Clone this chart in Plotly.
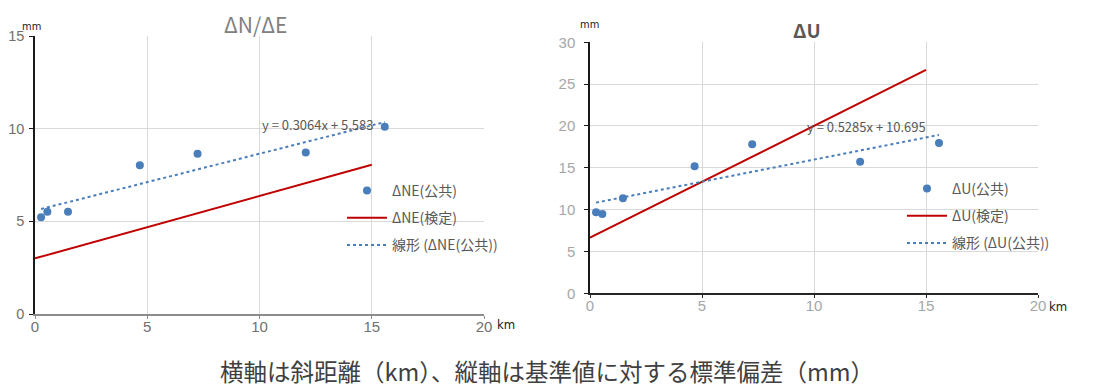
import plotly.graph_objects as go

# ---- data ----
dist_km = [0.27, 0.55, 1.47, 4.67, 7.24, 12.06, 15.58]
ne_public = [5.22, 5.52, 5.52, 8.02, 8.65, 8.72, 10.11]
u_public = [9.68, 9.48, 11.35, 15.18, 17.81, 15.73, 17.96]

ne_kentei_x = [0, 15]
ne_kentei_y = [3.0, 8.05]
u_kentei_x = [0, 15]
u_kentei_y = [6.65, 26.7]

ne_trend = (0.3064, 5.583)   # slope, intercept
u_trend = (0.5285, 10.695)

x_ticks = [0, 5, 10, 15, 20]
ne_y_ticks = [0, 5, 10, 15]
u_y_ticks = [0, 5, 10, 15, 20, 25, 30]

BLUE = "#4a7ebb"
RED = "#c00000"
FONT = "Noto Sans CJK JP"
TICKFONT = "Liberation Sans"
NARROW = "DejaVu Sans Condensed"

# page has an 8px body margin; figure fills the rest of the 1119x389 window
OFF = 8
W, H = 1119 - OFF, 389 - OFF

def trend_xy(coef, xs):
    xr = [min(xs), max(xs)]
    return xr, [coef[0] * v + coef[1] for v in xr]

fig = go.Figure()

# ---- left chart ----
fig.add_trace(go.Scatter(x=dist_km, y=ne_public, mode="markers", name="ΔNE(公共)",
                         marker=dict(color=BLUE, size=8), xaxis="x", yaxis="y",
                         legend="legend", legendgroup="a1"))
fig.add_trace(go.Scatter(x=ne_kentei_x, y=ne_kentei_y, mode="lines", name="ΔNE(検定)",
                         line=dict(color=RED, width=2), xaxis="x", yaxis="y",
                         legend="legend", legendgroup="a2"))
tx, ty = trend_xy(ne_trend, dist_km)
fig.add_trace(go.Scatter(x=tx, y=ty, mode="lines", name="線形 (ΔNE(公共))",
                         line=dict(color=BLUE, width=2, dash="dot"), xaxis="x", yaxis="y",
                         legend="legend", legendgroup="a3"))

# ---- right chart ----
fig.add_trace(go.Scatter(x=dist_km, y=u_public, mode="markers", name="ΔU(公共)",
                         marker=dict(color=BLUE, size=8), xaxis="x2", yaxis="y2",
                         legend="legend2", legendgroup="b1"))
fig.add_trace(go.Scatter(x=u_kentei_x, y=u_kentei_y, mode="lines", name="ΔU(検定)",
                         line=dict(color=RED, width=2), xaxis="x2", yaxis="y2",
                         legend="legend2", legendgroup="b2"))
tx, ty = trend_xy(u_trend, dist_km)
fig.add_trace(go.Scatter(x=tx, y=ty, mode="lines", name="線形 (ΔU(公共))",
                         line=dict(color=BLUE, width=2, dash="dot"), xaxis="x2", yaxis="y2",
                         legend="legend2", legendgroup="b3"))

def px_x(p):
    return (p - OFF) / W

def px_y(p):
    return 1 - (p - OFF) / H

base = dict(showgrid=True, gridcolor="#d9d9d9", gridwidth=1, zeroline=False,
            showline=True, automargin=False)

def xax(dom, col, lblcol, anchor):
    return dict(domain=dom, range=[0, 20], tickvals=x_ticks, linecolor=col, linewidth=1.5,
                ticks="outside", ticklen=3, tickcolor=col, ticklabelstandoff=-5,
                tickfont=dict(family=TICKFONT, size=15, color=lblcol), anchor=anchor, **base)

def yax(dom, rng, tv, lblcol, anchor, standoff, size):
    return dict(domain=dom, range=rng, tickvals=tv, linecolor="#1a1a1a", linewidth=1.5,
                ticks="outside", ticklen=4, tickcolor="#1a1a1a", ticklabelstandoff=standoff,
                tickfont=dict(family=TICKFONT, size=size, color=lblcol), anchor=anchor, **base)

legfont = dict(family=FONT, size=14, color="#595959")

fig.update_layout(
    width=W, height=H,
    margin=dict(l=0, r=0, t=0, b=0),
    paper_bgcolor="white", plot_bgcolor="white",
    font=dict(family=FONT, color="#595959"),
    xaxis=xax([px_x(35), px_x(484)], "#8c8c8c", "#707070", "y"),
    yaxis=yax([px_y(314), px_y(36)], [0, 15], ne_y_ticks, "#707070", "x", 2, 14.5),
    xaxis2=xax([px_x(590), px_x(1038)], "#262626", "#a6a6a6", "y2"),
    yaxis2=yax([px_y(293.3), px_y(42.3)], [0, 30], u_y_ticks, "#a6a6a6", "x2", 6, 15),
    showlegend=True,
    legend=dict(x=px_x(342), y=px_y(175), xanchor="left", yanchor="top",
                itemwidth=40, tracegroupgap=6, bgcolor="rgba(0,0,0,0)", font=legfont),
    legend2=dict(x=px_x(902), y=px_y(173), xanchor="left", yanchor="top",
                 itemwidth=40, tracegroupgap=6, bgcolor="rgba(0,0,0,0)", font=legfont),
)

ann = [
    dict(text="ΔN/ΔE", x=px_x(255), y=1.0, xref="paper", yref="paper", yanchor="top",
         borderpad=0, font=dict(family=FONT, size=21, color="#808080")),
    dict(text="<b>ΔU</b>", x=px_x(807), y=px_y(30), xref="paper", yref="paper",
         font=dict(family=FONT, size=19, color="#595959")),
    dict(text="mm", x=px_x(31), y=px_y(26), xref="paper", yref="paper",
         font=dict(family=NARROW, size=11, color="#1a1a1a")),
    dict(text="km", x=px_x(506), y=px_y(324), xref="paper", yref="paper",
         font=dict(family=NARROW, size=13, color="#1a1a1a")),
    dict(text="mm", x=px_x(589), y=px_y(25), xref="paper", yref="paper",
         font=dict(family=NARROW, size=11, color="#1a1a1a")),
    dict(text="km", x=px_x(1058), y=px_y(306), xref="paper", yref="paper",
         font=dict(family=NARROW, size=13, color="#1a1a1a")),
    dict(text="y = 0.3064x + 5.583", x=12.6, y=10.25, xref="x", yref="y",
         font=dict(family=FONT, size=13, color="#595959")),
    dict(text="y = 0.5285x + 10.695", x=12.35, y=19.88, xref="x2", yref="y2",
         font=dict(family=FONT, size=13, color="#595959")),
    dict(text="横軸は斜距離（km）、縦軸は基準値に対する標準偏差（mm）",
         x=px_x(547), y=0.0, xref="paper", yref="paper", yanchor="bottom", borderpad=0,
         font=dict(family=FONT, size=23.5, color="#404040")),
]
for a in ann:
    a.setdefault("showarrow", False)
    a.setdefault("xanchor", "center")
    a.setdefault("yanchor", "middle")
    fig.add_annotation(**a)

fig.write_html("out.html")
